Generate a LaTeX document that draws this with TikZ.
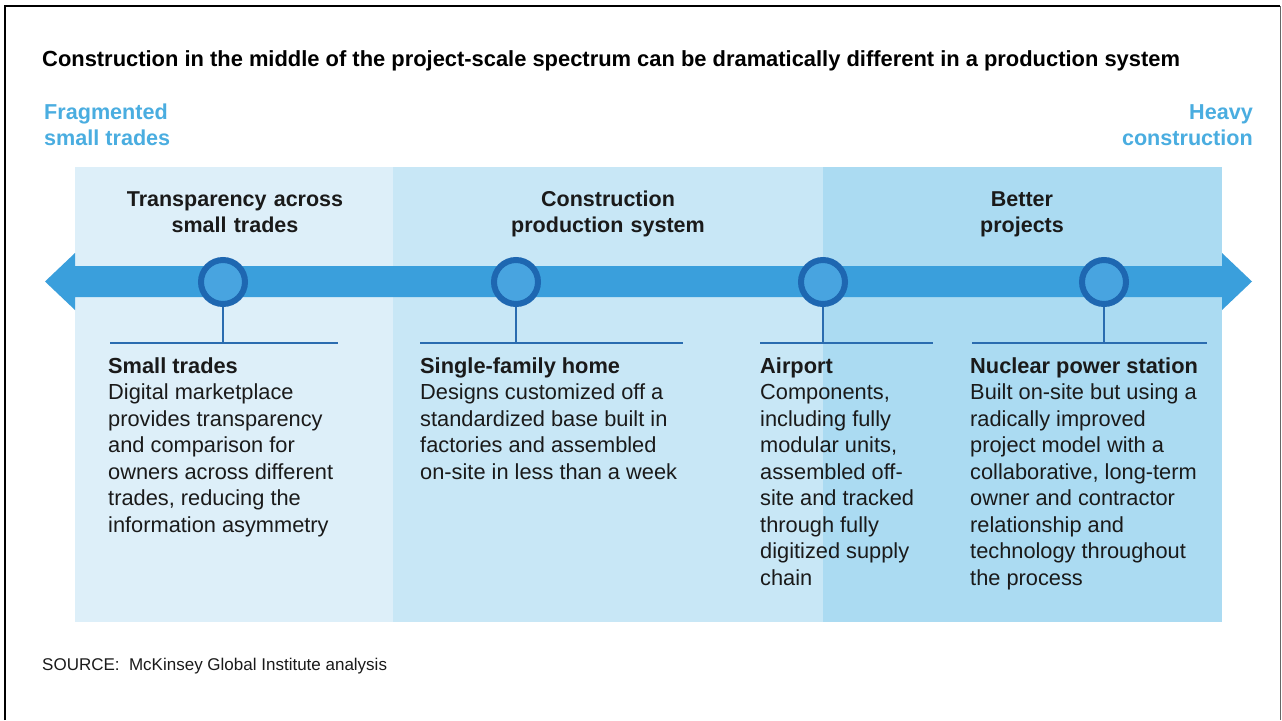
\documentclass[tikz,border=0pt]{standalone}
\usepackage{fontspec}
\setmainfont{Liberation Sans}
\definecolor{pone}{HTML}{DDEFF9}
\definecolor{ptwo}{HTML}{C8E7F6}
\definecolor{pthree}{HTML}{ABDBF2}
\definecolor{arrowc}{HTML}{3A9FDC}
\definecolor{ringc}{HTML}{1E67B1}
\definecolor{innerc}{HTML}{48A4E0}
\definecolor{linec}{HTML}{2A6CB0}
\definecolor{endc}{HTML}{4AADE0}
\definecolor{txt}{HTML}{1A1A1A}
\tikzset{
  dot/.style={circle, draw=ringc, line width=6pt, fill=innerc, minimum size=44pt, inner sep=0pt},
  stem/.style={draw=linec, line width=1.2pt},
  block/.style={anchor=base west, inner sep=0pt, align=left, text=txt,
    font=\fontsize{21.8}{26.5}\selectfont},
  ptitle/.style={anchor=base, inner sep=0pt, align=center, text width=320pt, text=txt,
    font=\fontsize{21.5}{26.5}\selectfont\bfseries},
  endlabel/.style={inner sep=0pt, text=endc, font=\fontsize{21.6}{26}\selectfont\bfseries},
}
\begin{document}
\begin{tikzpicture}[x=1pt, y=-1pt]
\useasboundingbox (0,0) rectangle (1282,720);
% frame
\draw[black, line width=2.2pt] (5,720) -- (5,6) -- (1280,6);
\draw[black!60, line width=0.8pt] (1280,6) -- (1280,720);
% panels
\fill[pone] (75,167) rectangle (393,622);
\fill[ptwo] (393,167) rectangle (823,622);
\fill[pthree] (823,167) rectangle (1222,622);
% title
\node[anchor=base west, inner sep=0pt, text=black, font=\fontsize{21.9}{24}\selectfont\bfseries] (title) at (42,66)
  {Construction in the middle of the project-scale spectrum can be dramatically different in a production system};
% end labels (anchored at baseline of last line)
\node[endlabel, anchor=base west, align=left] (frag) at (44,145) {Fragmented\\small trades};
\node[endlabel, anchor=base east, align=right] (heavy) at (1253,145) {Heavy\\construction};
% panel titles (text width: anchored at baseline of first line)
\node[ptitle] (pt1) at (235,206) {Transparency across\\small trades};
\node[ptitle] (pt2) at (608,206) {Construction\\production system};
\node[ptitle] (pt3) at (1022,206) {Better\\projects};
% arrow
\fill[arrowc] (45,281.5) -- (75,253) -- (75,266) -- (1222,266) -- (1222,253) -- (1252,281.5)
  -- (1222,310) -- (1222,297) -- (75,297) -- (75,310) -- cycle;
% dots
\node[dot] (c1) at (223,282) {};
\node[dot] (c2) at (516,282) {};
\node[dot] (c3) at (823,282) {};
\node[dot] (c4) at (1104,282) {};
% lines
\coordinate (l1a) at (110,343); \coordinate (l1b) at (338,343); \coordinate (s1) at (223,343);
\coordinate (l2a) at (420,343); \coordinate (l2b) at (683,343); \coordinate (s2) at (516,343);
\coordinate (l3a) at (760,343); \coordinate (l3b) at (933,343); \coordinate (s3) at (823,343);
\coordinate (l4a) at (972,343); \coordinate (l4b) at (1207,343); \coordinate (s4) at (1104,343);
\draw[stem] (l1a) -- (l1b); \draw[stem] (c1.south) -- (s1);
\draw[stem] (l2a) -- (l2b); \draw[stem] (c2.south) -- (s2);
\draw[stem] (l3a) -- (l3b); \draw[stem] (c3.south) -- (s3);
\draw[stem] (l4a) -- (l4b); \draw[stem] (c4.south) -- (s4);
% blocks (anchored at baseline of last line; first baseline 373, step 26.5)
\node[block] (b1) at (108,532) {\textbf{Small trades}\\Digital marketplace\\provides transparency\\and comparison for\\owners across different\\trades, reducing the\\information asymmetry};
\node[block] (b2) at (420,479) {\textbf{Single-family home}\\Designs customized off a\\standardized base built in\\factories and assembled\\on-site in less than a week};
\node[block] (b3) at (760,585) {\textbf{Airport}\\Components,\\including fully\\modular units,\\assembled off-\\site and tracked\\through fully\\digitized supply\\chain};
\node[block] (b4) at (970,585) {\textbf{Nuclear power station}\\Built on-site but using a\\radically improved\\project model with a\\collaborative, long-term\\owner and contractor\\relationship and\\technology throughout\\the process};
% source
\node[anchor=base west, inner sep=0pt, text=txt, font=\fontsize{17}{20}\selectfont] (src) at (42,670) {SOURCE:\ \ McKinsey Global Institute analysis};
\end{tikzpicture}
\end{document}
